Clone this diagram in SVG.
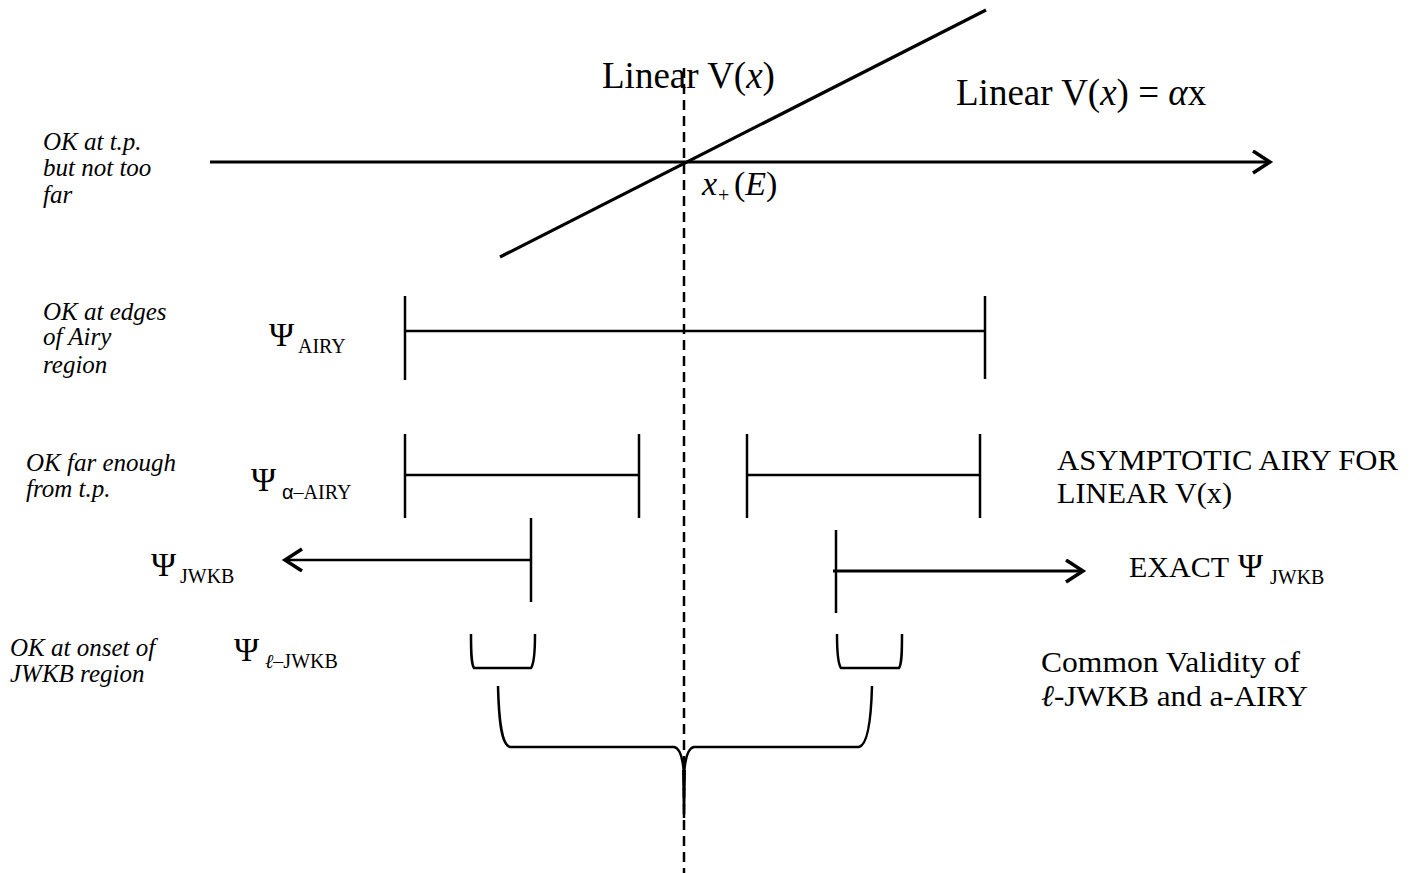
<svg xmlns="http://www.w3.org/2000/svg" width="1418" height="873" viewBox="0 0 1418 873">
<style>
.ln{stroke:#000;stroke-width:2.5;fill:none;stroke-linecap:butt}
.thick{stroke:#000;stroke-width:3.2;fill:none}
.dash{stroke:#000;stroke-width:2.5;stroke-dasharray:10 6;fill:none}
.serif{font-family:"Liberation Serif","Times New Roman",serif;fill:#000}
.it{font-family:"Liberation Serif","Times New Roman",serif;font-style:italic;font-size:25px;fill:#000}
.psi{font-family:"Liberation Serif","Times New Roman",serif;font-size:34px;fill:#000}
.sub{font-family:"Liberation Serif","Times New Roman",serif;font-size:20px;fill:#000}
.big{font-family:"Liberation Serif","Times New Roman",serif;font-size:30px;fill:#000}
</style>
<defs>
<marker id="chev" markerUnits="userSpaceOnUse" markerWidth="30" markerHeight="30" refX="20" refY="12" orient="auto">
<path d="M3,1 L20,12 L3,23" fill="none" stroke="#000" stroke-width="3.5"/>
</marker>
</defs>
<rect width="1418" height="873" fill="#fff"/>

<g id="connectors">
<line class="thick" x1="210" y1="162" x2="1270" y2="162" marker-end="url(#chev)"/>
<line class="thick" x1="500" y1="257" x2="986" y2="10"/>
<line class="dash" x1="684" y1="68" x2="684" y2="873"/>
</g>

<g id="label-linear-top">
<text class="serif" x="602" y="88" font-size="37">Linear V(<tspan font-style="italic">x</tspan>)</text>
</g>
<g id="label-linear-alpha">
<text class="serif" x="956" y="105" font-size="37">Linear V(<tspan font-style="italic">x</tspan>) = <tspan font-style="italic">α</tspan>x</text>
</g>
<g id="label-xplus">
<text class="serif" x="702" y="195" font-size="34" font-style="italic">x</text>
<text class="serif" x="718" y="202" font-size="20">+</text>
<text class="serif" x="734" y="195" font-size="34">(<tspan font-style="italic">E</tspan>)</text>
</g>

<g id="note-tp">
<text class="it" x="43" y="150">OK at t.p.</text>
<text class="it" x="43" y="176">but not too</text>
<text class="it" x="43" y="203">far</text>
</g>

<g id="airy">
<text class="it" x="43" y="320">OK at edges</text>
<text class="it" x="43" y="345">of Airy</text>
<text class="it" x="43" y="373">region</text>
<text class="psi" x="269" y="346">Ψ</text>
<text class="sub" x="298" y="353">AIRY</text>
<line class="ln" x1="405" y1="296" x2="405" y2="380"/>
<line class="ln" x1="985" y1="296" x2="985" y2="379"/>
<line class="ln" x1="405" y1="331" x2="985" y2="331"/>
</g>

<g id="alpha-airy">
<text class="it" x="26" y="471">OK far enough</text>
<text class="it" x="26" y="497">from t.p.</text>
<text class="psi" x="251" y="491">Ψ</text>
<text class="sub" x="282" y="499"><tspan font-family="'Liberation Sans',Arial,sans-serif">α</tspan>–AIRY</text>
<line class="ln" x1="405" y1="434" x2="405" y2="518"/>
<line class="ln" x1="639" y1="434" x2="639" y2="518"/>
<line class="ln" x1="405" y1="475" x2="639" y2="475"/>
<line class="ln" x1="747" y1="434" x2="747" y2="518"/>
<line class="ln" x1="980" y1="434" x2="980" y2="518"/>
<line class="ln" x1="747" y1="475" x2="980" y2="475"/>
<text class="big" x="1057" y="470" textLength="341" lengthAdjust="spacingAndGlyphs">ASYMPTOTIC AIRY FOR</text>
<text class="big" x="1057" y="503" textLength="175" lengthAdjust="spacingAndGlyphs">LINEAR V(x)</text>
</g>

<g id="jwkb">
<text class="psi" x="151" y="576">Ψ</text>
<text class="sub" x="180" y="583">JWKB</text>
<line class="ln" x1="531" y1="560" x2="285" y2="560" marker-end="url(#chev)"/>
<line class="ln" x1="531" y1="518" x2="531" y2="602"/>
<line class="ln" x1="836" y1="530" x2="836" y2="613"/>
<line class="thick" x1="833" y1="571" x2="1083" y2="571" marker-end="url(#chev)"/>
<text class="big" x="1129" y="577">EXACT</text>
<text class="psi" x="1238" y="577">Ψ</text>
<text class="sub" x="1270" y="584">JWKB</text>
</g>

<g id="l-jwkb">
<text class="it" x="10" y="656">OK at onset of</text>
<text class="it" x="10" y="682">JWKB region</text>
<text class="psi" x="234" y="661">Ψ</text>
<text class="sub" x="265" y="668"><tspan font-style="italic">ℓ</tspan>–JWKB</text>
<path class="ln" d="M471,634 C471,650 471,664 474,668 L531,668 C534,664 535,650 535,634"/>
<path class="ln" d="M837,634 C837,650 838,664 841,668 L899,668 C902,664 902,650 902,634"/>
</g>

<g id="common">
<path class="ln" d="M498,686 C499,725 502,745 510,747 L674,747 C680,748 683,758 684,775 C685,758 688,748 694,747 L859,747 C867,745 871,725 872,686"/>
<path d="M682,770 L686,770 L685.2,818 L682.8,818 Z" fill="#000"/>
<text class="big" x="1041" y="672" textLength="259" lengthAdjust="spacingAndGlyphs">Common Validity of</text>
<text class="big" x="1041" y="706" textLength="267" lengthAdjust="spacingAndGlyphs"><tspan font-style="italic">ℓ</tspan>-JWKB and a-AIRY</text>
</g>
</svg>
